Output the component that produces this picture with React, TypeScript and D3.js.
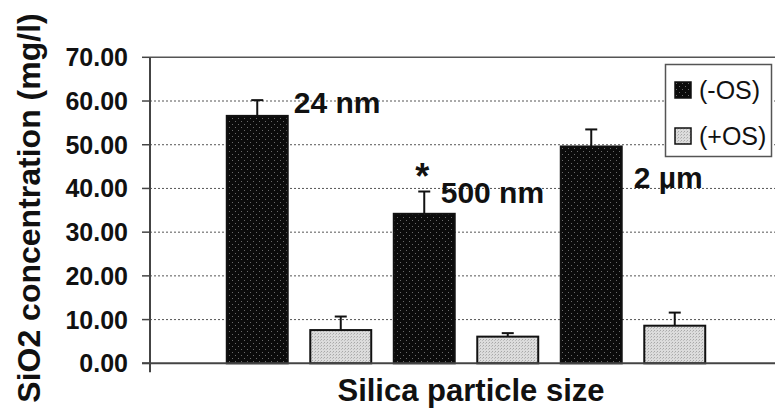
import React from 'react';
import * as d3 from 'd3';

const categories = ['24 nm', '500 nm', '2 µm'];
const seriesNames = ['(-OS)', '(+OS)'];
const minusOS = [56.6, 34.2, 49.6];
const minusOSErr = [3.6, 5.1, 3.9];
const plusOS = [7.6, 6.1, 8.6];
const plusOSErr = [3.1, 0.8, 3.0];
const yTicks = [0, 10, 20, 30, 40, 50, 60, 70];
const labelY = [57.2, 36.6, 40.1];

const W = 775;
const H = 418;
const FONT = '"Liberation Sans", Arial, sans-serif';

function App() {
  const left = 150;
  const y = d3.scaleLinear().domain([0, 70]).range([363.3, 57.3]);
  const x0 = d3.scaleBand<string>().domain(categories).range([215.5, 716.5]);
  const x1 = d3
    .scaleBand<string>()
    .domain(seriesNames)
    .range([0, x0.bandwidth()])
    .paddingInner(0.27)
    .paddingOuter(0.135);

  const bars = categories.flatMap((c, i) => [
    { cat: c, s: seriesNames[0], v: minusOS[i], e: minusOSErr[i] },
    { cat: c, s: seriesNames[1], v: plusOS[i], e: plusOSErr[i] },
  ]);
  const fill = (s: string) => (s === seriesNames[0] ? 'url(#darkDots)' : 'url(#lightDots)');
  const bw = x1.bandwidth();

  return (
    <svg width={W} height={H} style={{ position: 'absolute', left: 0, top: 0, background: '#fff' }} fontFamily={FONT}>
      <defs>
        <pattern id="darkDots" width="6" height="6" patternUnits="userSpaceOnUse">
          <rect width="6" height="6" fill="#0b0b0b" />
          <rect x="1" y="1" width="1" height="1" fill="#6a6a6a" />
          <rect x="4" y="4" width="1" height="1" fill="#6a6a6a" />
        </pattern>
        <pattern id="lightDots" width="3" height="3" patternUnits="userSpaceOnUse">
          <rect width="3" height="3" fill="#dcdcdc" />
          <rect x="0" y="0" width="1" height="1" fill="#a8a8a8" />
          <rect x="2" y="1" width="1" height="1" fill="#bdbdbd" />
        </pattern>
      </defs>

      {/* gridlines */}
      {yTicks.slice(1, -1).map((t) => (
        <line key={t} x1={left} x2={W} y1={y(t)} y2={y(t)} stroke="#555" strokeWidth={1} strokeDasharray="2,2" />
      ))}
      <line x1={left} x2={W} y1={y(70)} y2={y(70)} stroke="#555" strokeWidth={1.5} />

      {/* bars */}
      {bars.map((b, i) => {
        const bx = (x0(b.cat) ?? 0) + (x1(b.s) ?? 0);
        const cx = bx + bw / 2;
        return (
          <g key={i}>
            <line x1={cx} x2={cx} y1={y(b.v)} y2={y(b.v + b.e)} stroke="#111" strokeWidth={2} />
            <line x1={cx - 6} x2={cx + 6} y1={y(b.v + b.e)} y2={y(b.v + b.e)} stroke="#111" strokeWidth={2} />
            <rect x={bx} y={y(b.v)} width={bw} height={y(0) - y(b.v)} fill={fill(b.s)} stroke="#111" strokeWidth={2} />
          </g>
        );
      })}

      {/* axes */}
      <line x1={left} x2={left} y1={y(70)} y2={y(0) + 9} stroke="#444" strokeWidth={2} />
      <line x1={left - 8} x2={W} y1={y(0)} y2={y(0)} stroke="#444" strokeWidth={2} />
      {yTicks.map((t) => (
        <g key={t}>
          <line x1={left - 8} x2={left} y1={y(t)} y2={y(t)} stroke="#444" strokeWidth={1.5} />
          <text x={128} y={y(t)} dy="0.36em" textAnchor="end" fontSize={25} fontWeight="bold" fill="#111">
            {d3.format('.2f')(t)}
          </text>
        </g>
      ))}

      {/* size labels */}
      {categories.map((c, i) => {
        const bx = (x0(c) ?? 0) + (x1(seriesNames[0]) ?? 0);
        const dx = [6, -14, 12][i];
        return (
          <text key={c} x={bx + bw + dx} y={y(labelY[i])} fontSize={30} fontWeight="bold" fill="#111">
            {c}
          </text>
        );
      })}
      <text
        x={(x0(categories[1]) ?? 0) + (x1(seriesNames[0]) ?? 0) + bw / 2 - 2}
        y={y(minusOS[1] + minusOSErr[1]) - 3}
        textAnchor="middle"
        fontSize={36}
        fontWeight="bold"
        fill="#111"
      >
        *
      </text>

      {/* axis titles */}
      <text x={471} y={401} textAnchor="middle" fontSize={31} fontWeight="bold" fill="#111">
        Silica particle size
      </text>
      <text
        transform="translate(40,208) rotate(-90)"
        textAnchor="middle"
        fontSize={32}
        fontWeight="bold"
        fill="#111"
      >
        SiO2 concentration (mg/l)
      </text>

      {/* legend */}
      <rect x={665.5} y={64.5} width={106} height={92} fill="#fff" stroke="#555" strokeWidth={1.5} />
      {seriesNames.map((s, i) => (
        <g key={s} transform={`translate(675,${82 + i * 46})`}>
          <rect width={16} height={16} fill={fill(s)} stroke="#111" strokeWidth={1.5} />
          <text x={24} y={17} fontSize={25} fill="#111">
            {s}
          </text>
        </g>
      ))}
    </svg>
  );
}

export default App;
